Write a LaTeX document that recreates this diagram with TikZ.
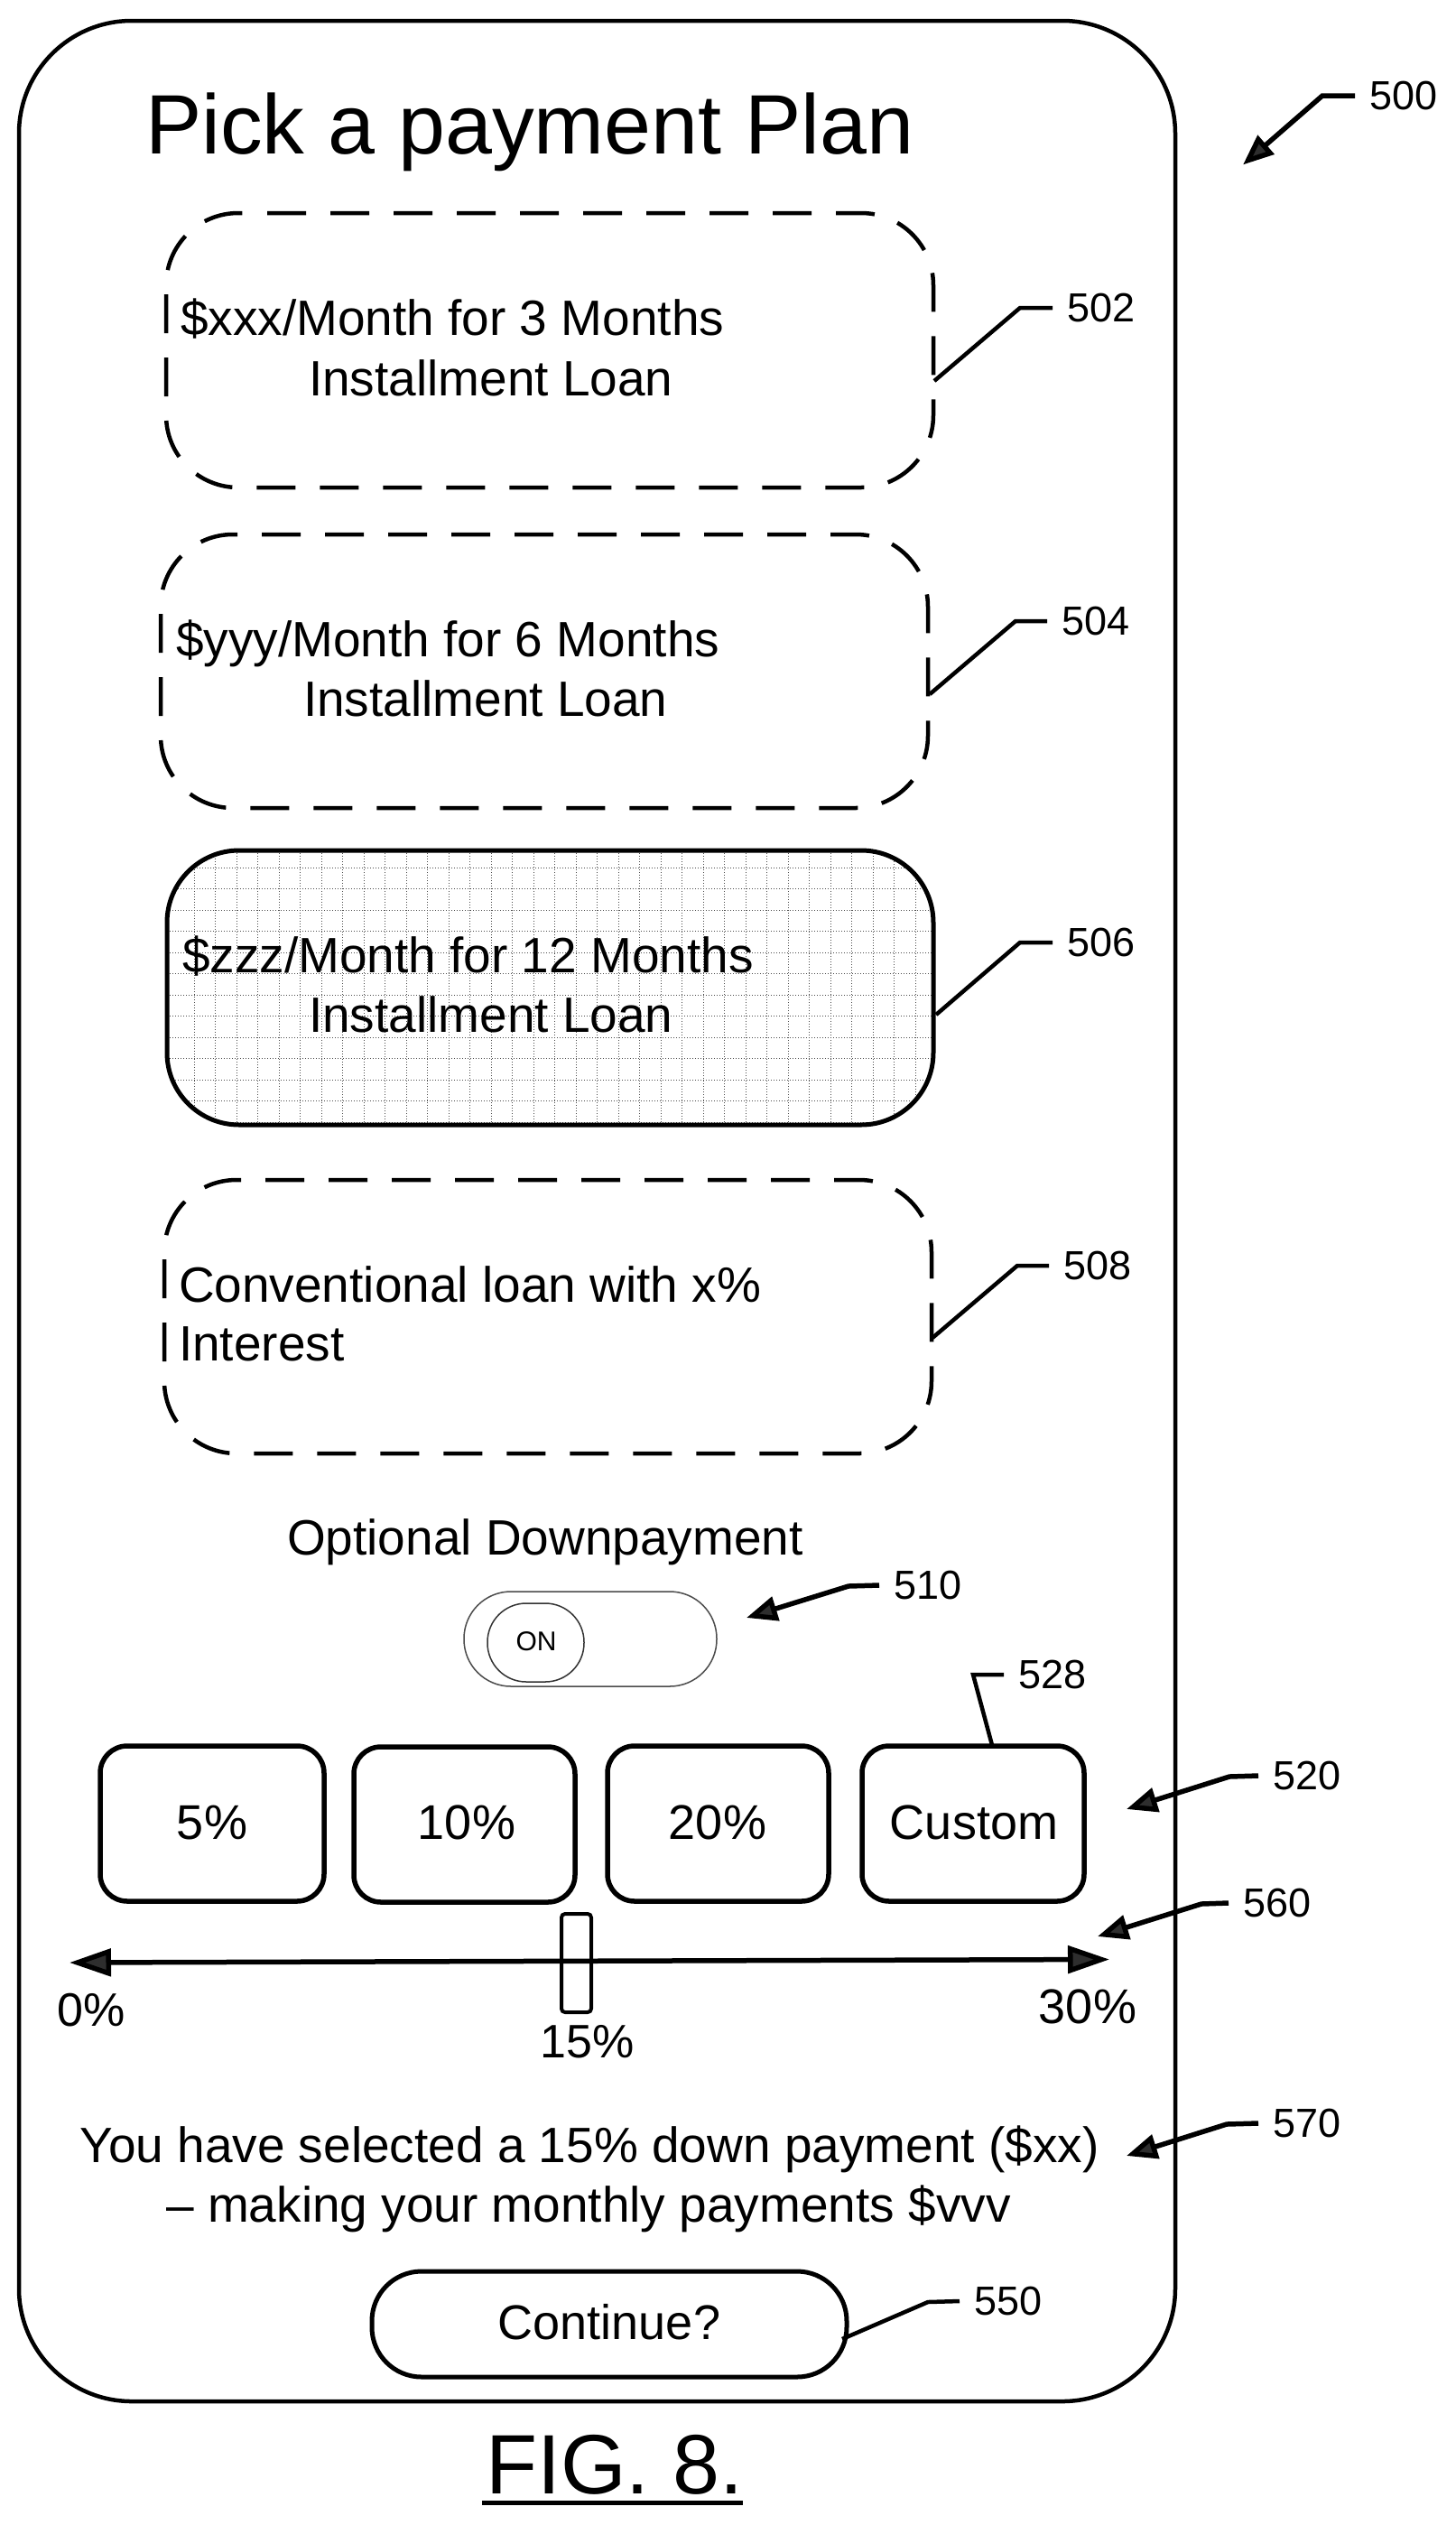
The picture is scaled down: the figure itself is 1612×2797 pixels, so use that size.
\documentclass[tikz,border=0pt]{standalone}
\usepackage{fontspec}
\setmainfont{Liberation Sans}
\usetikzlibrary{arrows.meta,calc}
\newcommand{\fs}[1]{\fontsize{#1}{#1}\selectfont}
\tikzset{
  frame/.style 2 args={rectangle,inner sep=0pt,outer sep=0pt,anchor=north west,minimum width=#1,minimum height=#2},
  dashbox/.style={line width=4.5pt,draw=black,rounded corners=80pt,dash pattern=on 43pt off 27pt},
  solidbox/.style={draw=black,line width=5.5pt,rounded corners=30pt},
  uitext/.style={inner sep=0pt,outer sep=0pt,anchor=base west,font=\fs{55}},
  ctext/.style={inner sep=0pt,outer sep=0pt,anchor=base,font=\fs{54}},
  reflabel/.style={inner xsep=16pt,inner ysep=0pt,outer sep=0pt,anchor=west,font=\fs{45}},
  leader/.style={draw=black,line width=4.5pt,line join=miter},
  tipped/.style={leader,line width=5.5pt,-{Triangle[length=34pt,width=27pt,fill=black!82]}},
  gridline/.style={draw=black!70,line width=1pt,dash pattern=on 1pt off 2pt},
}
\begin{document}
\begin{tikzpicture}[x=1pt,y=-1pt]
\useasboundingbox (0,0) rectangle (1612,2797);
% outer device
\node[frame={1281pt}{2637pt},draw=black,line width=4.5pt,rounded corners=125pt] (device) at (21,23) {};
\node[uitext,font=\fs{93.4}] (title) at (161,170) {Pick a payment Plan};
% plan boxes
\node[frame={850pt}{304pt}] (box502) at (184,236) {};
\draw[dashbox] ($(box502.north west)+(112,0)$) -- (box502.north east) -- (box502.south east) -- (box502.south west) -- (box502.north west) -- ($(box502.north west)+(85,0)$);
\node[frame={850pt}{303pt}] (box504) at (178,592) {};
\draw[dashbox] ($(box504.north west)+(112,0)$) -- (box504.north east) -- (box504.south east) -- (box504.south west) -- (box504.north west) -- ($(box504.north west)+(85,0)$);
\node[frame={849pt}{304pt},fill=white] (box506) at (185,942) {};
\begin{scope}
\clip[rounded corners=80pt] (box506.north west) rectangle (box506.south east);
\foreach \gx in {215,238.5,...,1034} \draw[gridline] (\gx,942) -- (\gx,1246);
\foreach \gy in {961,984.5,...,1246} \draw[gridline] (185,\gy) -- (1034,\gy);
\end{scope}
\draw[draw=black,line width=5pt,rounded corners=80pt] (box506.north west) rectangle (box506.south east);
\node[frame={850pt}{303pt}] (box508) at (182,1307) {};
\draw[dashbox] ($(box508.north west)+(112,0)$) -- (box508.north east) -- (box508.south east) -- (box508.south west) -- (box508.north west) -- ($(box508.north west)+(85,0)$);
% plan texts
\node[uitext] (t502a) at (200,371.5) {\$xxx/Month for 3 Months};
\node[uitext] (t502b) at (342,438.5) {Installment Loan};
\node[uitext] (t504a) at (195,727) {\$yyy/Month for 6 Months};
\node[uitext] (t504b) at (336,793.5) {Installment Loan};
\node[uitext] (t506a) at (202,1077) {\$zzz/Month for 12 Months};
\node[uitext] (t506b) at (342,1143.5) {Installment Loan};
\node[uitext] (t508a) at (198,1442) {Conventional loan with x\%};
\node[uitext] (t508b) at (198,1507.5) {Interest};
% toggle
\node[uitext] (optional) at (318,1722.5) {Optional Downpayment};
\node[frame={280pt}{105pt},draw=black!70,line width=1.5pt,rounded corners=52pt] (toggle) at (514,1763) {};
\node[frame={107pt}{87pt},draw=black!80,line width=1.5pt,rounded corners=43pt] (knob) at (540,1776) {};
\node[inner sep=0pt,font=\fs{30}] (on) at (594,1818) {ON};
% percent buttons
\node[frame={248pt}{172pt},solidbox] (p5) at (111,1934) {};
\node[frame={245pt}{172pt},solidbox] (p10) at (392,1935) {};
\node[frame={245pt}{172pt},solidbox] (p20) at (673,1934) {};
\node[frame={246pt}{172pt},solidbox] (pc) at (955,1934) {};
\node[ctext] at (235,2037.5) {5\%};
\node[ctext] at (517,2037.5) {10\%};
\node[ctext] at (795,2037.5) {20\%};
\node[ctext] at (1079,2037.5) {Custom};
% slider
\coordinate (sl) at (77,2174);
\coordinate (sr) at (1229,2170.5);
\draw[line width=5.5pt,{Triangle[length=46pt,width=30pt,fill=black!82]}-{Triangle[length=46pt,width=30pt,fill=black!82]}] (sl) -- (sr);
\node[frame={33pt}{109pt},draw=black,line width=4pt,rounded corners=4pt] (handle) at (622,2120) {};
\node[ctext,font=\fs{52}] (s0) at (101,2244) {0\%};
\node[ctext] (s30) at (1205,2241) {30\%};
\node[ctext,font=\fs{52}] (s15) at (651,2279.5) {15\%};
% message
\node[ctext,font=\fs{55}] (m1) at (653,2395) {You have selected a 15\% down payment (\$xx)};
\node[ctext,font=\fs{55}] (m2) at (652,2461) {-- making your monthly payments \$vvv};
% continue
\node[frame={526pt}{117pt},draw=black,line width=5pt,rounded corners=55pt] (cont) at (412,2516) {};
\node[ctext] (conttext) at (675,2591.5) {Continue?};
% figure label
\node[inner sep=0pt,outer sep=0pt,anchor=base west,font=\fs{93.4}] (fig) at (538,2762) {FIG. 8.};
\coordinate (u1) at (534,2772);
\coordinate (u2) at (823,2772);
\draw[line width=5pt] (u1) -- (u2);
% reference labels and leaders
\node[reflabel] (l500) at (1501,106) {500};
\coordinate (b500) at (1465,106); \coordinate (e500) at (1377,182.5);
\draw[tipped] (l500.west) -- (b500) -- (e500);
\node[reflabel] (l502) at (1166,341) {502};
\coordinate (b502) at (1130,341); \coordinate (e502) at (1035,422);
\draw[leader] (l502.west) -- (b502) -- (e502);
\node[reflabel] (l504) at (1160,688) {504};
\coordinate (b504) at (1125,688); \coordinate (e504) at (1030,769);
\draw[leader] (l504.west) -- (b504) -- (e504);
\node[reflabel] (l506) at (1166,1044) {506};
\coordinate (b506) at (1130,1044); \coordinate (e506) at (1037,1124);
\draw[leader] (l506.west) -- (b506) -- (e506);
\node[reflabel] (l508) at (1162,1402) {508};
\coordinate (b508) at (1127,1402); \coordinate (e508) at (1033,1482);
\draw[leader] (l508.west) -- (b508) -- (e508);
\node[reflabel] (l510) at (974,1756) {510};
\coordinate (b510) at (940,1757); \coordinate (e510) at (827,1792);
\draw[tipped] (l510.west) -- (b510) -- (e510);
\node[reflabel] (l528) at (1112,1855) {528};
\coordinate (b528) at (1078,1855); \coordinate (e528) at (1099,1933);
\draw[leader] (l528.west) -- (b528) -- (e528);
\node[reflabel] (l520) at (1394,1967) {520};
\coordinate (b520) at (1362,1968); \coordinate (e520) at (1248,2004);
\draw[tipped] (l520.west) -- (b520) -- (e520);
\node[reflabel] (l560) at (1361,2108) {560};
\coordinate (b560) at (1331,2109); \coordinate (e560) at (1216,2145);
\draw[tipped] (l560.west) -- (b560) -- (e560);
\node[reflabel] (l570) at (1394,2352) {570};
\coordinate (b570) at (1359,2353); \coordinate (e570) at (1248,2388);
\draw[tipped] (l570.west) -- (b570) -- (e570);
\node[reflabel] (l550) at (1063,2549) {550};
\coordinate (b550) at (1028,2550); \coordinate (e550) at (933,2591);
\draw[leader] (l550.west) -- (b550) -- (e550);
\end{tikzpicture}
\end{document}
